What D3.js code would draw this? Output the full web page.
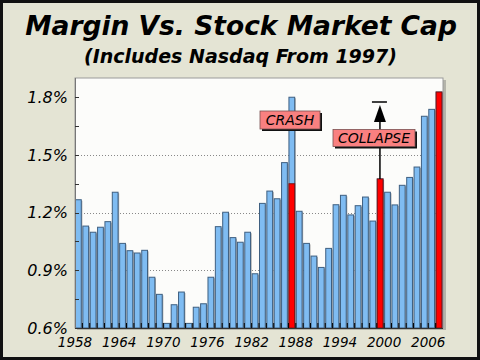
<!DOCTYPE html>
<html><head><meta charset="utf-8">
<script src="https://cdn.jsdelivr.net/npm/d3@7"></script>
<style>html,body{margin:0;padding:0;background:#fff}svg{display:block}</style>
</head><body>
<script>
const years = d3.range(1958, 2008);
const values = [1.267,1.130,1.098,1.124,1.153,1.306,1.040,1.002,0.990,1.004,
  0.864,0.775,0.624,0.721,0.787,0.624,0.708,0.726,0.864,1.127,
  1.202,1.070,1.046,1.098,0.882,1.248,1.312,1.272,1.460,1.800,
  1.207,1.040,0.974,0.915,1.014,1.241,1.290,1.188,1.236,1.281,
  1.156,1.375,1.306,1.240,1.342,1.383,1.437,1.701,1.737,1.827];
const redYears = [1987, 1999, 2007];
const redValues = [1.350, 1.375, 1.827];
const yTicks = [0.6, 0.9, 1.2, 1.5, 1.8];
const yMinorTicks = [0.6, 0.75, 0.9, 1.05, 1.2, 1.35, 1.5, 1.65, 1.8];
const gridTicks = [0.9, 1.2, 1.5];
const yearLabels = [1958, 1964, 1970, 1976, 1982, 1988, 1994, 2000, 2006];
const title = "Margin Vs. Stock Market Cap";
const subtitle = "(Includes Nasdaq From 1997)";
const notes = [{text: "CRASH", year: 1987}, {text: "COLLAPSE", year: 1999}];

const W = 480, H = 360;
const L = 75, R = 443, T = 78, B = 328;
const svg = d3.select("body").append("svg").attr("width", W).attr("height", H)
  .style("font-family", "'DejaVu Sans', Verdana, sans-serif");

svg.append("rect").attr("x", 1.5).attr("y", 1.5).attr("width", W - 3).attr("height", H - 3)
  .attr("fill", "#e4e4d4").attr("stroke", "#111").attr("stroke-width", 3);

svg.append("text").attr("x", 241).attr("y", 35).attr("text-anchor", "middle")
  .attr("font-size", 26.5).attr("font-weight", "bold").attr("font-style", "italic")
  .attr("fill", "#000").text(title);
svg.append("text").attr("x", 240.5).attr("y", 63).attr("text-anchor", "middle")
  .attr("font-size", 19).attr("font-weight", "bold").attr("font-style", "italic")
  .attr("fill", "#000").text(subtitle);

const x = d3.scaleBand().domain(years).range([L, R]).padding(0);
const y = d3.scaleLinear().domain([0.6, 1.9]).range([B, T]);

// panel
svg.append("rect").attr("x", L + 2).attr("y", T + 2).attr("width", R - L + 1).attr("height", B - T)
  .attr("fill", "#b4b4aa");
svg.append("rect").attr("x", L).attr("y", T).attr("width", R - L).attr("height", B - T)
  .attr("fill", "#fcfcfa").attr("stroke", "#9a9a9a").attr("stroke-width", 1);

// grid
svg.append("g").selectAll("line").data(gridTicks).join("line")
  .attr("x1", L).attr("x2", R).attr("y1", d => Math.round(y(d)) + 0.5).attr("y2", d => Math.round(y(d)) + 0.5)
  .attr("stroke", "#888").attr("stroke-dasharray", "1,2");

const bw = x.bandwidth();
const bars = svg.append("g");
// shadows
bars.selectAll("rect.sh").data(years).join("rect").attr("class", "sh")
  .attr("x", d => x(d) + 1.5).attr("y", (d, i) => y(values[i]) + 1)
  .attr("width", bw - 1.5).attr("height", (d, i) => B - y(values[i]) - 1)
  .attr("fill", "#a8a8a8");
bars.selectAll("rect.b").data(years).join("rect").attr("class", "b")
  .attr("x", d => x(d) + 0.5).attr("y", (d, i) => y(values[i]))
  .attr("width", bw - 1.6).attr("height", (d, i) => B - y(values[i]))
  .attr("fill", "#7fbcf2").attr("stroke", "#3e5f80").attr("stroke-width", 1);
bars.selectAll("rect.r").data(redYears).join("rect").attr("class", "r")
  .attr("x", d => x(d) + 0.5).attr("y", (d, i) => y(redValues[i]))
  .attr("width", bw - 1.6).attr("height", (d, i) => B - y(redValues[i]))
  .attr("fill", "#ff0000").attr("stroke", "#7a1010").attr("stroke-width", 1);

// bottom ticks at band edges
svg.append("g").selectAll("line").data(years.slice(1)).join("line")
  .attr("x1", d => x(d)).attr("x2", d => x(d)).attr("y1", B).attr("y2", B - 5)
  .attr("stroke", "#000").attr("stroke-width", 1);
svg.append("line").attr("x1", L).attr("x2", R).attr("y1", B + 0.5).attr("y2", B + 0.5).attr("stroke", "#333");
svg.append("line").attr("x1", L + 0.5).attr("x2", L + 0.5).attr("y1", T).attr("y2", B).attr("stroke", "#777");

svg.append("g").selectAll("text").data(yearLabels).join("text")
  .attr("x", d => x(d)).attr("y", 346.5).attr("text-anchor", "middle")
  .attr("font-size", 13.5).attr("font-style", "italic").attr("fill", "#000").text(d => d);

// y axis
const yAxis = svg.append("g").attr("transform", `translate(${L},0)`)
  .call(d3.axisLeft(y).tickValues(yTicks).tickSize(0).tickPadding(7).tickFormat(d => d.toFixed(1) + "%"));
yAxis.select(".domain").remove();
yAxis.selectAll("text").attr("font-size", 16).attr("font-style", "italic").attr("fill", "#000")
  .style("font-family", "'DejaVu Sans', Verdana, sans-serif");
svg.append("g").selectAll("line").data(yMinorTicks).join("line")
  .attr("x1", L).attr("x2", L + 4).attr("y1", d => Math.round(y(d)) + 0.5).attr("y2", d => Math.round(y(d)) + 0.5)
  .attr("stroke", "#333");

// collapse arrow
const cx = x(1999) + bw / 2 - 0.5;
const ci = redYears.indexOf(1999);
svg.append("line").attr("x1", cx).attr("x2", cx).attr("y1", y(redValues[ci])).attr("y2", 120)
  .attr("stroke", "#000").attr("stroke-width", 1.5);
svg.append("path").attr("d", `M${cx},105 L${cx - 6},122 L${cx + 6},122 Z`).attr("fill", "#000");
svg.append("line").attr("x1", cx - 8).attr("x2", cx + 7).attr("y1", 102).attr("y2", 102)
  .attr("stroke", "#000").attr("stroke-width", 1.5);

// notes
const boxes = [{x: 260, y: 111, w: 60, h: 18}, {x: 333, y: 129.5, w: 82, h: 17}];
notes.forEach((n, i) => {
  const b = boxes[i];
  svg.append("rect").attr("x", b.x + 2).attr("y", b.y + 2).attr("width", b.w).attr("height", b.h).attr("fill", "#111");
  svg.append("rect").attr("x", b.x).attr("y", b.y).attr("width", b.w).attr("height", b.h)
    .attr("fill", "#f98080").attr("stroke", "#7a5050").attr("stroke-width", 0.8);
  svg.append("text").attr("x", b.x + b.w / 2).attr("y", b.y + b.h / 2 + 5).attr("text-anchor", "middle")
    .attr("font-size", 14).attr("font-style", "italic").attr("fill", "#000").text(n.text);
});
</script>
</body></html>
